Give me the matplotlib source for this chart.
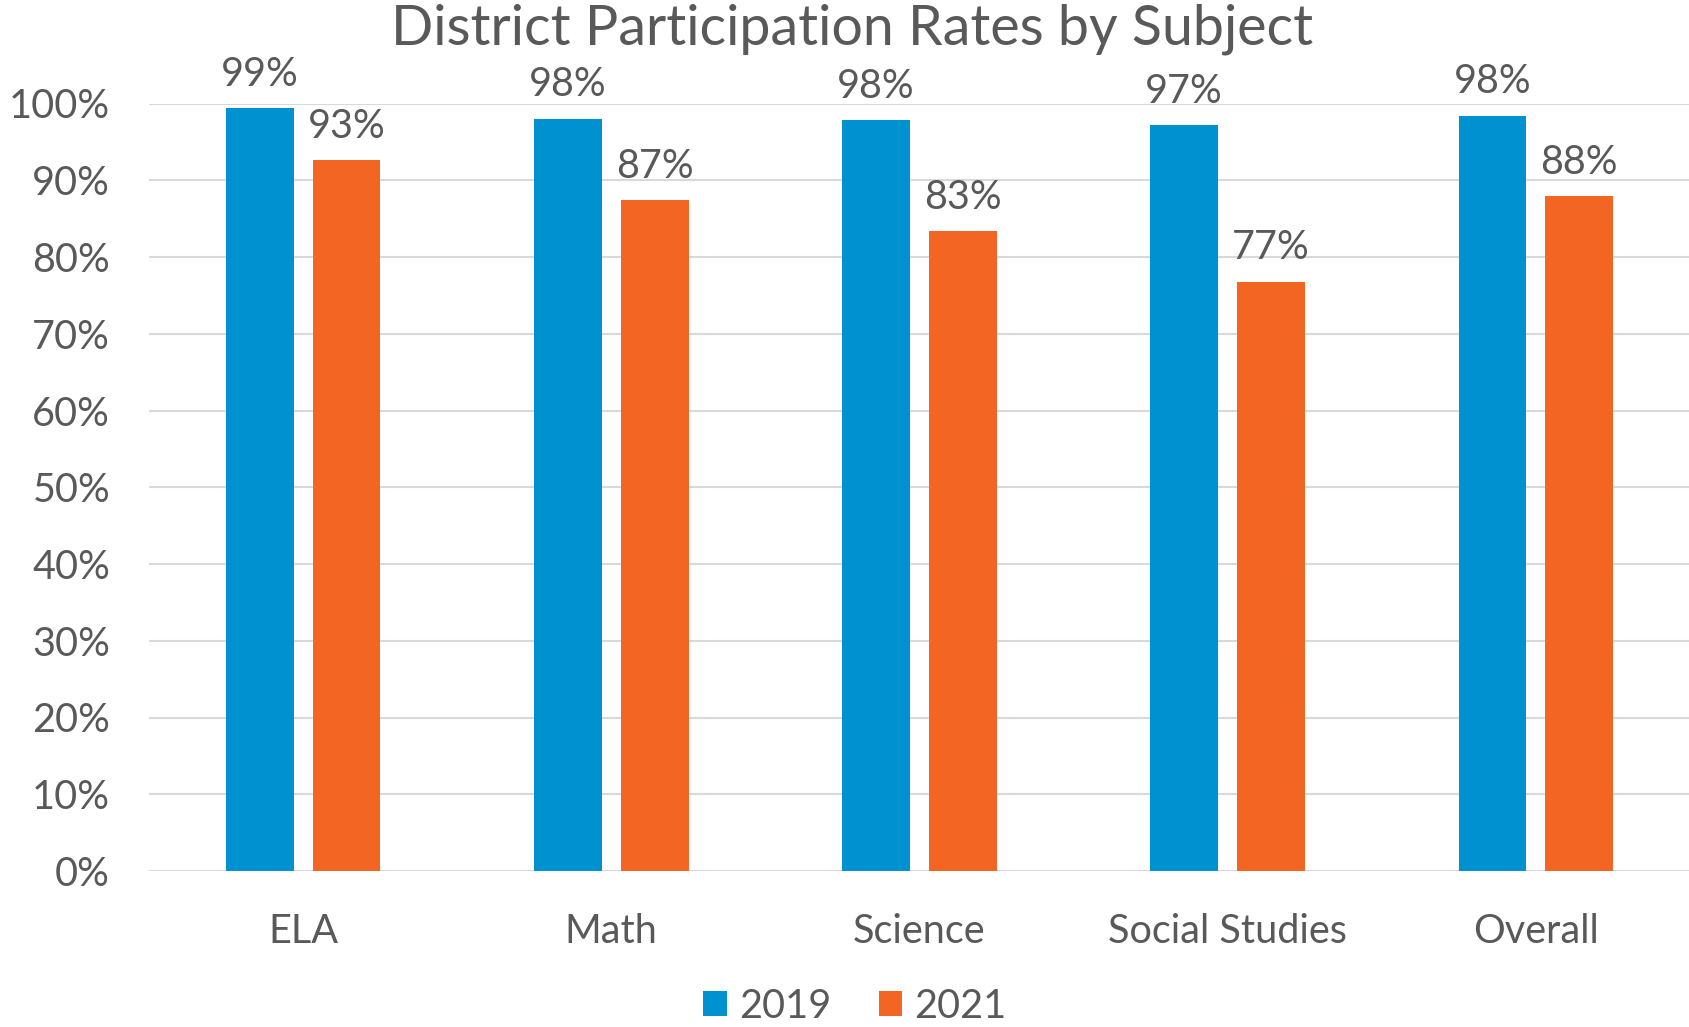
import matplotlib.pyplot as plt
import numpy as np

subjects = ["ELA", "Math", "Science", "Social Studies", "Overall"]
rate_2019 = [99.4, 98.0, 97.8, 97.2, 98.4]
rate_2021 = [92.6, 87.4, 83.4, 76.8, 87.9]

blue = "#0092D0"
orange = "#F26522"
text_c = "#595959"

plt.rcParams["font.family"] = ["Lato", "DejaVu Sans"]

fig = plt.figure(figsize=(16.9, 10.27), dpi=100)
ax = fig.add_axes([149 / 1690, 1 - 871 / 1027, 1 - 149 / 1690, (871 - 103.5) / 1027])

x = np.arange(len(subjects))
width = 0.22
off = 0.141
b1 = ax.bar(x - off, rate_2019, width, color=blue, label="2019", zorder=3)
b2 = ax.bar(x + off, rate_2021, width, color=orange, label="2021", zorder=3)

for bars, vals in [(b1, rate_2019), (b2, rate_2021)]:
    for r, v in zip(bars, vals):
        ax.text(r.get_x() + r.get_width() / 2, v + 2.0, f"{round(v):d}%",
                ha="center", va="bottom", fontsize=28.5, color=text_c, clip_on=False)

ax.set_xlim(-0.5, len(subjects) - 0.5)
ax.set_ylim(0, 100)
ax.set_yticks(np.arange(0, 101, 10))
ax.set_yticklabels([f"{t}%" for t in range(0, 101, 10)])
ax.set_xticks(x)
ax.set_xticklabels(subjects)
ax.tick_params(axis="both", length=0, labelsize=28.5, colors=text_c)
ax.tick_params(axis="y", pad=28)
ax.tick_params(axis="x", pad=30)
ax.grid(axis="y", color="#D9D9D9", linewidth=1.5, zorder=0)
ax.set_axisbelow(True)
for s in ax.spines.values():
    s.set_visible(False)

fig.text(852 / 1690, 1 - 29 / 1027, "District Participation Rates by Subject",
         ha="center", va="center", fontsize=40, color=text_c)

fig.legend(handles=[b1, b2], labels=["2019", "2021"], loc="center",
           bbox_to_anchor=(855 / 1690, 1 - 1006 / 1027), ncol=2, frameon=False,
           fontsize=28.5, labelcolor=text_c, handlelength=0.6, handleheight=0.6,
           handletextpad=0.3, columnspacing=1.2)

fig.savefig("out.png", dpi=100)
